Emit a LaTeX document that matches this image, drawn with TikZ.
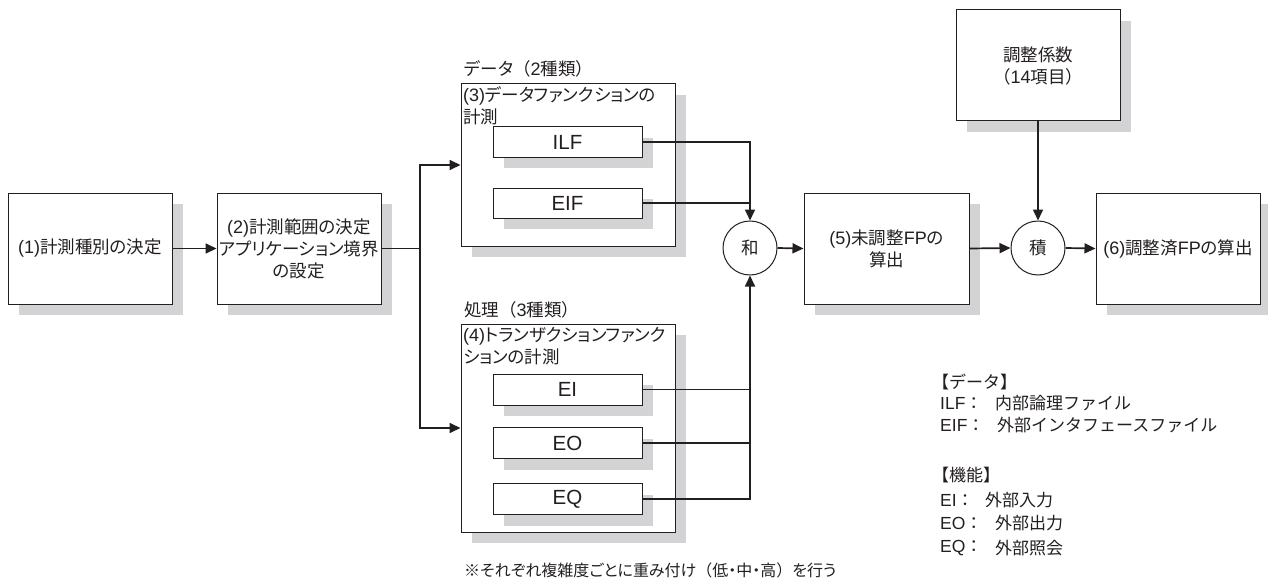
\documentclass[tikz,border=0pt]{standalone}
\usepackage{fontspec}
\setmainfont{Noto Sans CJK JP}[RawFeature=+palt]
\newfontfamily\fixedjp{Noto Sans CJK JP}
\newfontfamily\latf{Liberation Sans}
\usetikzlibrary{arrows.meta,shadows}
\definecolor{shd}{RGB}{211,211,213}
\definecolor{ink}{RGB}{35,31,32}
\newcommand\myfs{\fontsize{17.5pt}{22pt}\selectfont}
\newcommand\notefs{\fontsize{16pt}{20pt}\selectfont}
\newcommand\legfs{\fixedjp\fontsize{17pt}{22pt}\selectfont}
% inline Latin inside Japanese labels
\newcommand\latA[1]{{\latf\fontsize{18pt}{22pt}\selectfont #1}}
% Latin box labels
\newcommand\latB[1]{{\latf\fontsize{20.5pt}{22pt}\selectfont #1}}
% Latin in legend
\newcommand\latC[1]{{\latf\fontsize{17.5pt}{22pt}\selectfont #1}}
\newcommand\fixp[1]{{\fixedjp #1}}
\tikzset{
  box/.style={draw=ink, line width=1pt, fill=white, rectangle, inner sep=2pt,
    align=center, font=\myfs, text=ink,
    drop shadow={shadow xshift=11pt, shadow yshift=-11pt, fill=shd, opacity=1}},
  conn/.style={line width=1.7pt, draw=ink},
  arr/.style={conn, -{Triangle[length=11pt,width=10pt]}},
  circ/.style={circle, draw=ink, line width=1pt, fill=white, minimum size=54pt,
    inner sep=0pt, font=\myfs, text=ink},
  lbl/.style={anchor=west, inner sep=0pt, font=\myfs, text=ink},
  leg/.style={anchor=west, inner sep=0pt, font=\legfs, text=ink}
}
\begin{document}
\begin{tikzpicture}[x=1pt,y=-1pt]
\useasboundingbox (0,0) rectangle (1268,583);

% main boxes
\node[box, minimum width=164pt, minimum height=111pt] (b1) at (90,248.5) {\latA{(1)}計測種別の決定};
\node[box, minimum width=164pt, minimum height=111pt] (b2) at (299,248.5) {\latA{(2)}計測範囲の決定\\アプリケーション境界\\の設定};

% data function group
\node[lbl] (l3) at (464,69) {データ\fixp{（}\latA{2}種類\fixp{）}};
\node[box, minimum width=214pt, minimum height=162pt] (b3) at (568,165) {};
\node[lbl, anchor=north west, align=left] (h3) at (463,86) {\latA{(3)}データファンクションの\\計測};
\node[box, minimum width=149pt, minimum height=30pt] (ilf) at (567.5,142) {\latB{ILF}};
\node[box, minimum width=149pt, minimum height=30pt] (eif) at (567.5,203) {\latB{EIF}};

% transaction function group
\node[lbl] (l4) at (464,310) {処理\fixp{（}\latA{3}種類\fixp{）}};
\node[box, minimum width=214pt, minimum height=208pt] (b4) at (568,428) {};
\node[lbl, anchor=north west, align=left] (h4) at (463,327) {\latA{(4)}トランザクションファンク\\ションの計測};
\node[box, minimum width=149pt, minimum height=31pt] (ei) at (567.5,389.5) {\latB{EI}};
\node[box, minimum width=149pt, minimum height=31pt] (eo) at (567.5,443) {\latB{EO}};
\node[box, minimum width=149pt, minimum height=31pt] (eq) at (567.5,499) {\latB{EQ}};

% sum, unadjusted, product, adjusted
\node[circ] (wa) at (750,248) {和};
\node[box, minimum width=165pt, minimum height=111pt] (b5) at (886.5,248.5) {\latA{(5)}未調整\latA{FP}の\\算出};
\node[box, minimum width=164pt, minimum height=111pt] (adj) at (1038,65.5) {調整係数\\\fixp{（}\latA{14}項目\fixp{）}};
\node[circ] (seki) at (1038,248) {積};
\node[box, minimum width=164pt, minimum height=111pt] (b6) at (1178,248.5) {\latA{(6)}調整済\latA{FP}の算出};

% connectors
\coordinate (sp) at (420,248.5);
\draw[arr] (b1.east) -- (b2.west);
\draw[conn] (b2.east) -- (sp);
\draw[arr] (sp) |- (b3.west);
\draw[arr] (sp) |- (b4.west);
\draw[arr] (ilf.east) -| (wa.north);
\draw[conn] (eif.east) -- (eif.east -| wa.north);
\draw[arr] (eq.east) -| (wa.south);
\draw[conn] (ei.east) -- (ei.east -| wa.south);
\draw[conn] (eo.east) -- (eo.east -| wa.south);
\draw[arr] (wa.east) -- (b5.west);
\draw[arr] (b5.east) -- (seki.west);
\draw[arr] (adj.south) -- (seki.north);
\draw[arr] (seki.east) -- (b6.west);

% note
\node[lbl, font=\notefs] (note) at (464,570) {※それぞれ複雑度ごとに重み付け\fixp{（}低・中・高\fixp{）}を行う};

% legend
\node[leg] (lg1) at (932,382) {【データ】};
\node[leg] (lg2) at (940,403) {\latC{ILF}：};
\node[leg] (lg2j) at (995,403) {内部論理ファイル};
\node[leg] (lg3) at (940,425) {\latC{EIF}：};
\node[leg] (lg3j) at (997,425) {外部インタフェースファイル};
\node[leg] (lg4) at (932,475) {【機能】};
\node[leg] (lg5) at (940,500) {\latC{EI}：};
\node[leg] (lg5j) at (985,500) {外部入力};
\node[leg] (lg6) at (940,523) {\latC{EO}：};
\node[leg] (lg6j) at (995,523) {外部出力};
\node[leg] (lg7) at (940,548) {\latC{EQ}：};
\node[leg] (lg7j) at (995,548) {外部照会};
\end{tikzpicture}
\end{document}
